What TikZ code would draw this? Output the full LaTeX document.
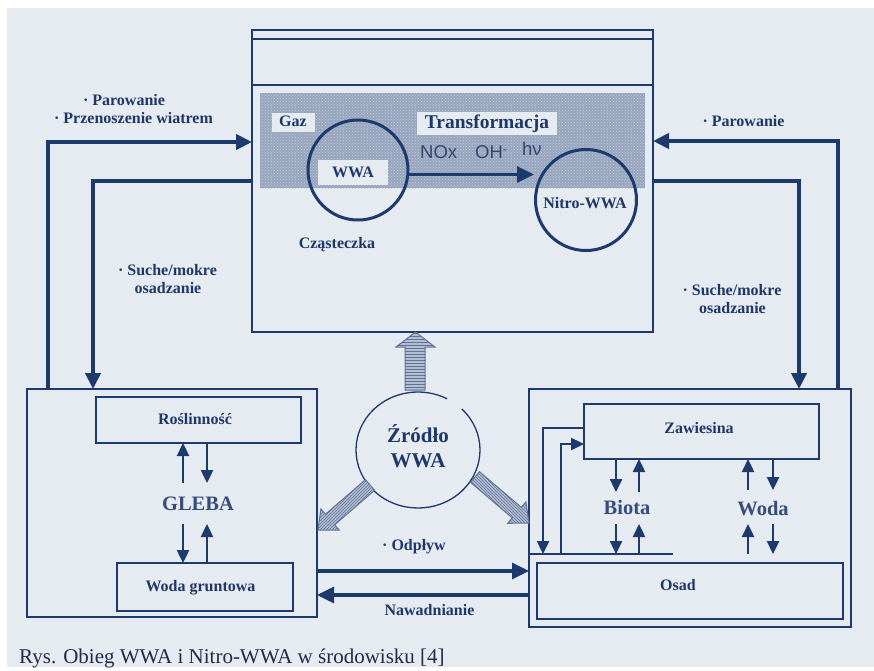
\documentclass[tikz,border=0pt]{standalone}
\usepackage{fontspec}
\setmainfont{Liberation Serif}
\newfontfamily\sansf{Liberation Sans}
\usetikzlibrary{arrows.meta,patterns}
\definecolor{bg}{HTML}{E6EAF1}
\definecolor{navy}{HTML}{1D3A6D}
\definecolor{txt}{HTML}{1E3968}
\definecolor{band}{HTML}{97A5BF}
\definecolor{bandlight}{HTML}{C3CBDA}
\definecolor{blk}{HTML}{B3BED1}
\definecolor{blkedge}{HTML}{5F7399}
\definecolor{sanscol}{HTML}{34466A}
\definecolor{capcol}{HTML}{222B45}
\begin{document}
\begin{tikzpicture}[x=1pt,y=-1pt,
  lbl/.style={font=\bfseries\fontsize{16}{17}\selectfont, text=txt, inner sep=0pt, anchor=base},
  biglbl/.style={font=\bfseries\fontsize{20.5}{22}\selectfont, text=txt!90, inner sep=0pt, anchor=base},
  srclbl/.style={font=\bfseries\fontsize{21}{23}\selectfont, text=txt, inner sep=0pt, anchor=base},
  sanslbl/.style={font=\sansf\fontsize{18.5}{20}\selectfont, text=sanscol, inner sep=0pt, anchor=base west},
  boxnode/.style={draw=navy, line width=1.6pt, inner sep=0pt, outer sep=0pt},
  bgtag/.style={fill=bg, inner sep=0pt, outer sep=0pt},
  looparrow/.style={draw=navy, line width=4pt, -{Triangle[length=16pt,width=15pt]}},
  midarrow/.style={draw=navy, line width=3.2pt, -{Triangle[length=17pt,width=16pt]}},
  smallarrow/.style={draw=navy, line width=2.4pt, -{Triangle[length=13pt,width=12pt]}},
  blockarrow/.style={fill=blk, draw=blkedge, line width=1pt, line join=miter}
]
\useasboundingbox (0,0) rectangle (874,670);
\fill[white] (0,0) rectangle (874,670);
\fill[bg] (7,8) rectangle (874,667);

% ---------- top box (atmosphere)
\fill[band] (260,93) rectangle (645,188);
\fill[pattern=crosshatch dots, pattern color=bandlight] (260,93) rectangle (645,188);
\node (top) [boxnode, minimum width=401pt, minimum height=302pt] at (452.5,181) {};
\draw[navy, line width=1.4pt] (252,39) -- (653,39);
\draw[navy, line width=1.6pt] (252,85) -- (653,85);

\node (gaz) [bgtag, minimum width=43pt, minimum height=19pt] at (293.5,122.5) {};
\node[lbl] at (293,126) {Gaz};
\node (wwatag) [bgtag, minimum width=70pt, minimum height=25pt] at (353,172.5) {};
\node[lbl] at (353,177) {WWA};
\node (trtag) [bgtag, minimum width=140pt, minimum height=23pt] at (487,123.5) {};
\node[font=\bfseries\fontsize{19.5}{21}\selectfont, text=txt, inner sep=0pt, anchor=base] at (487,128) {Transformacja};

\node[sanslbl] at (420,158) {NOx};
\node[sanslbl] at (475,158) {OH\raisebox{5pt}{\fontsize{12}{12}\selectfont -}};
\node[sanslbl] at (522,155) {hν};

\node (wwac) [circle, draw=navy, line width=3pt, minimum size=100pt, inner sep=0pt] at (358,170) {};
\node (nitro) [circle, draw=navy, line width=3pt, minimum size=101pt, inner sep=0pt] at (586,200) {};
\node[lbl] at (585,208) {Nitro-WWA};
\node[lbl] at (337,248) {Cząsteczka};
\draw[midarrow] (wwac.-5) -- (nitro.west |- wwac.-5);

% ---------- soil box
\node (lbox) [boxnode, minimum width=290pt, minimum height=228pt] at (172,503) {};
\node (rosl) [boxnode, minimum width=205pt, minimum height=46pt] at (198.5,420) {};
\node[lbl] at (195,424) {Roślinność};
\node (wgr) [boxnode, minimum width=176pt, minimum height=48pt] at (205,587) {};
\node[lbl] at (200.5,591) {Woda gruntowa};
\node[biglbl] at (198,510) {GLEBA};

\draw[smallarrow] (183,483) -- (rosl.south -| 183,0);
\draw[smallarrow] (rosl.south -| 207,0) -- (207,483);
\draw[smallarrow] (183,524) -- (wgr.north -| 183,0);
\draw[smallarrow] (wgr.north -| 207,0) -- (207,524);

% ---------- water box
\node (rbox) [boxnode, minimum width=322pt, minimum height=238pt] at (690,508) {};
\node (zaw) [boxnode, minimum width=235pt, minimum height=55pt] at (701.5,431.5) {};
\node[lbl] at (699,433) {Zawiesina};
\node (osad) [boxnode, minimum width=306pt, minimum height=56pt] at (690,591) {};
\node[lbl] at (678,590) {Osad};
\coordinate (wl) at (529,554);
\draw[navy, line width=1.4pt] (wl) -- (673,554);
\node[biglbl] at (627,514) {Biota};
\node[biglbl] at (763,515) {Woda};

\draw[smallarrow] (zaw.west |- 0,428) -- (543,428) -- (wl -| 543,0);
\draw[smallarrow] (wl -| 561,0) -- (561,444) -- (zaw.west |- 0,444);
\draw[smallarrow] (zaw.south -| 616,0) -- (616,492);
\draw[smallarrow] (639,492) -- (zaw.south -| 639,0);
\draw[smallarrow] (616,524) -- (wl -| 616,0);
\draw[smallarrow] (wl -| 639,0) -- (639,524);
\draw[smallarrow] (748,490) -- (zaw.south -| 748,0);
\draw[smallarrow] (zaw.south -| 773,0) -- (773,490);
\draw[smallarrow] (wl -| 748,0) -- (748,524);
\draw[smallarrow] (773,524) -- (wl -| 773,0);

% ---------- big loops
\draw[looparrow] (lbox.north -| 48,0) -- (48,142) -- (top.west |- 0,142);
\draw[looparrow] (top.west |- 0,181) -- (93,181) -- (lbox.north -| 93,0);
\draw[looparrow] (rbox.north -| 838,0) -- (838,141) -- (top.east |- 0,141);
\draw[looparrow] (top.east |- 0,181) -- (799,181) -- (rbox.north -| 799,0);

\node[lbl] at (124,105) {· Parowanie};
\node[lbl] at (133.5,123) {· Przenoszenie wiatrem};
\node[lbl] at (167.5,275) {· Suche/mokre};
\node[lbl] at (168,293) {osadzanie};
\node[lbl] at (743.5,126) {· Parowanie};
\node[lbl] at (732,295) {· Suche/mokre};
\node[lbl] at (732.5,313) {osadzanie};

% ---------- runoff / irrigation
\draw[midarrow] (lbox.east |- 0,571) -- (rbox.west |- 0,571);
\draw[midarrow] (rbox.west |- 0,595) -- (lbox.east |- 0,595);
\node[lbl] at (414,550) {· Odpływ};
\node[lbl] at (429.5,615) {Nawadnianie};

% ---------- source
\coordinate (zr) at (418,450);
\draw[navy, line width=1.3pt] (zr) ++(-45:62 and 58) arc[start angle=-45, end angle=298, x radius=62, y radius=58];
\node[srclbl] at (418,442) {Źródło};
\node[srclbl] at (418,467) {WWA};
\draw[blockarrow] (405,390) -- (405,347) -- (396,347) -- (415.5,332) -- (435,347) -- (425,347) -- (425,390) -- cycle;
\fill[pattern=horizontal lines, pattern color=blkedge] (405,390) -- (405,347) -- (396,347) -- (415.5,332) -- (435,347) -- (425,347) -- (425,390) -- cycle;
\draw[blockarrow] (374.6,490.3) -- (334.7,524.8) -- (339.3,530.1) -- (318,530) -- (320.9,508.9) -- (325.5,514.2) -- (365.4,479.7) -- cycle;
\fill[pattern=north east lines, pattern color=blkedge] (374.6,490.3) -- (334.7,524.8) -- (339.3,530.1) -- (318,530) -- (320.9,508.9) -- (325.5,514.2) -- (365.4,479.7) -- cycle;
\draw[blockarrow] (470.5,482.3) -- (512.3,517.9) -- (507.7,523.3) -- (529,523) -- (525.9,501.9) -- (521.3,507.3) -- (479.5,471.7) -- cycle;
\fill[pattern=north west lines, pattern color=blkedge] (470.5,482.3) -- (512.3,517.9) -- (507.7,523.3) -- (529,523) -- (525.9,501.9) -- (521.3,507.3) -- (479.5,471.7) -- cycle;

% ---------- caption
\node[font=\fontsize{21}{23}\selectfont, text=capcol, inner sep=0pt, anchor=base west] at (19,663) {Rys. Obieg WWA i Nitro-WWA w środowisku [4]};
\end{tikzpicture}
\end{document}
